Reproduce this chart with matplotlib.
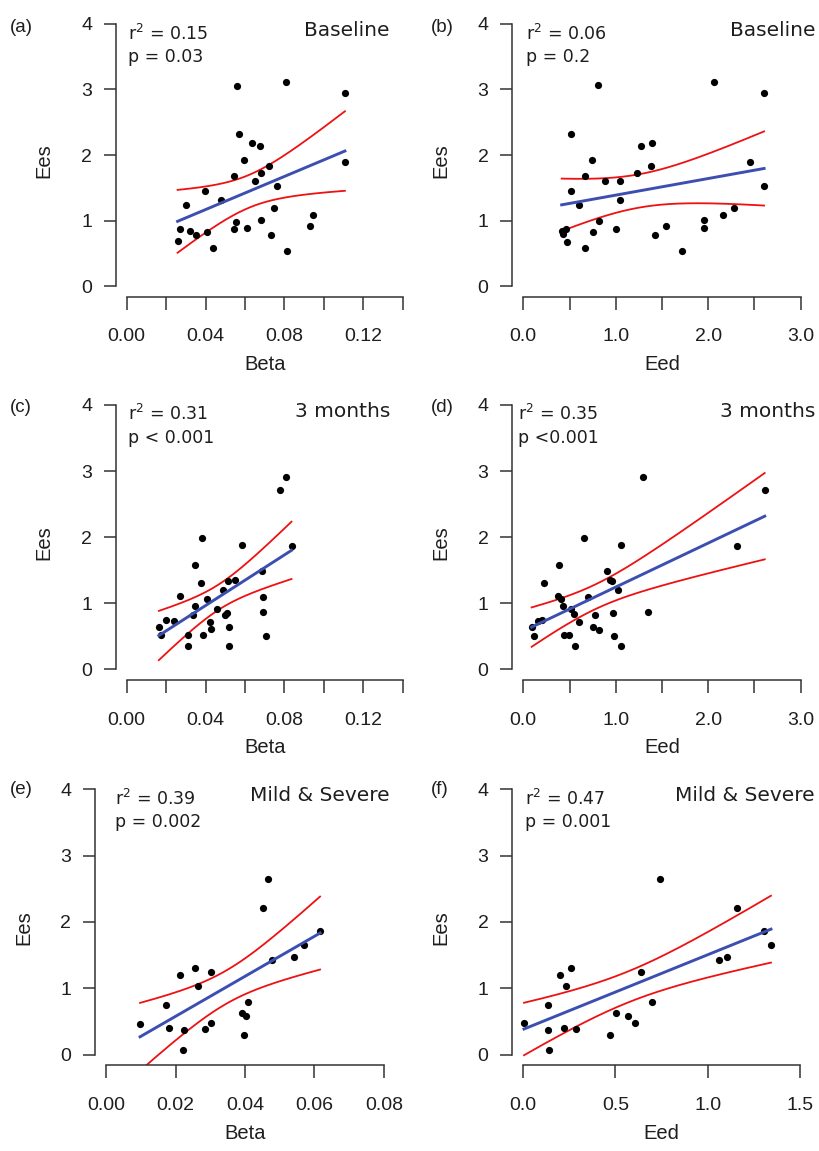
# Ees vs Beta / Eed scatter panels with linear fit and 95% CI band

import numpy as np
import matplotlib.pyplot as plt

# ---- data ----
a_beta = [0.0258, 0.0268, 0.0302, 0.0319, 0.0351, 0.0397, 0.0405, 0.0436, 0.0480, 0.0546, 0.0544,
          0.0554, 0.0558, 0.0568, 0.0593, 0.0612, 0.0636, 0.0653, 0.0675, 0.0681, 0.0683, 0.0722,
          0.0734, 0.0746, 0.0761, 0.0808, 0.0812, 0.0932, 0.0946, 0.1107, 0.1105]
a_ees = [0.68, 0.875, 1.24, 0.835, 0.78, 1.445, 0.824, 0.585, 1.32, 1.68, 0.87,
         0.98, 3.06, 2.32, 1.92, 0.885, 2.18, 1.60, 2.14, 1.725, 1.01, 1.83,
         0.774, 1.195, 1.52, 3.11, 0.54, 0.916, 1.084, 2.95, 1.89]

b_eed = [0.415, 0.429, 0.458, 0.472, 0.512, 0.512, 0.599, 0.664, 0.671, 0.746, 0.757, 0.808,
         0.822, 0.884, 1.006, 1.042, 1.042, 1.230, 1.273, 1.385, 1.396, 1.424, 1.543, 1.720,
         1.951, 1.951, 2.066, 2.157, 2.283, 2.452, 2.604, 2.600]
b_ees = [0.845, 0.789, 0.875, 0.677, 2.316, 1.445, 1.242, 0.585, 1.684, 1.919, 0.824, 3.064,
         0.987, 1.598, 0.875, 1.598, 1.313, 1.730, 2.137, 1.827, 2.188, 0.774, 0.916, 0.539,
         1.013, 0.885, 3.115, 1.084, 1.196, 1.888, 2.947, 1.522]

c_beta = [0.0163, 0.0175, 0.0200, 0.0241, 0.0268, 0.0310, 0.0310, 0.0336, 0.0344, 0.0346, 0.0378,
          0.0381, 0.0388, 0.0405, 0.0420, 0.0425, 0.0458, 0.0490, 0.0498, 0.0507, 0.0514, 0.0520,
          0.0520, 0.0547, 0.0586, 0.0685, 0.0693, 0.0690, 0.0708, 0.0780, 0.0807, 0.0836]
c_ees = [0.645, 0.514, 0.746, 0.731, 1.109, 0.514, 0.358, 0.827, 0.958, 1.573, 1.306,
         1.992, 0.524, 1.059, 0.711, 0.605, 0.918, 1.205, 0.827, 0.852, 1.331, 0.640,
         0.358, 1.357, 1.876, 1.488, 1.089, 0.862, 0.504, 2.713, 2.905, 1.871]

d_eed = [0.090, 0.112, 0.162, 0.198, 0.224, 0.371, 0.389, 0.407, 0.433, 0.440, 0.494, 0.512,
         0.545, 0.563, 0.606, 0.653, 0.700, 0.754, 0.775, 0.819, 0.902, 0.934, 0.963, 0.970,
         0.977, 1.028, 1.053, 1.060, 1.298, 1.352, 2.315, 2.611]
d_ees = [0.640, 0.509, 0.736, 0.751, 1.306, 1.114, 1.573, 1.064, 0.958, 0.519, 0.519, 0.913,
         0.837, 0.358, 0.711, 1.992, 1.094, 0.640, 0.827, 0.600, 1.493, 1.346, 1.331, 0.857,
         0.499, 1.205, 1.876, 0.358, 2.910, 0.862, 1.866, 2.713]

e_beta = [0.0098, 0.0173, 0.0180, 0.0214, 0.0221, 0.0224, 0.0256, 0.0264, 0.0284, 0.0302, 0.0303,
          0.0391, 0.0396, 0.0404, 0.0408, 0.0451, 0.0465, 0.0479, 0.0542, 0.0569, 0.0616]
e_ees = [0.467, 0.749, 0.407, 1.196, 0.075, 0.372, 1.307, 1.040, 0.382, 0.482, 1.251,
         0.633, 0.296, 0.578, 0.794, 2.216, 2.648, 1.427, 1.467, 1.648, 1.869]

f_eed = [0.004, 0.136, 0.132, 0.141, 0.199, 0.220, 0.233, 0.257, 0.284, 0.470, 0.502,
         0.566, 0.605, 0.638, 0.699, 0.739, 1.059, 1.106, 1.160, 1.305, 1.343]
f_ees = [0.472, 0.744, 0.372, 0.075, 1.196, 0.407, 1.040, 1.307, 0.382, 0.291, 0.633,
         0.578, 0.482, 1.251, 0.789, 2.648, 1.427, 1.467, 2.216, 1.869, 1.648]

panel_tags = ['(a)', '(b)', '(c)', '(d)', '(e)', '(f)']
periods = ['Baseline', 'Baseline', '3 months', '3 months', 'Mild & Severe', 'Mild & Severe']
r2_text = ['r$^2$ = 0.15', 'r$^2$ = 0.06', 'r$^2$ = 0.31', 'r$^2$ = 0.35', 'r$^2$ = 0.39', 'r$^2$ = 0.47']
p_text = ['p = 0.03', 'p = 0.2', 'p < 0.001', 'p <0.001', 'p = 0.002', 'p = 0.001']
x_names = ['Beta', 'Eed', 'Beta', 'Eed', 'Beta', 'Eed']

beta_ticks = [0.00, 0.02, 0.04, 0.06, 0.08, 0.10, 0.12, 0.14]
beta_labels = ['0.00', '', '0.04', '', '0.08', '', '0.12', '']
eed_ticks = [0.0, 0.5, 1.0, 1.5, 2.0, 2.5, 3.0]
eed_labels = ['0.0', '', '1.0', '', '2.0', '', '3.0']
beta_ticks_e = [0.00, 0.02, 0.04, 0.06, 0.08]
beta_labels_e = ['0.00', '0.02', '0.04', '0.06', '0.08']
eed_ticks_f = [0.0, 0.5, 1.0, 1.5]
eed_labels_f = ['0.0', '0.5', '1.0', '1.5']

# two-sided 95% t quantiles by residual df
t_crit = {19: 2.093, 29: 2.045, 30: 2.042}

xs = [a_beta, b_eed, c_beta, d_eed, e_beta, f_eed]
ys = [a_ees, b_ees, c_ees, d_ees, e_ees, f_ees]
ticks = [(beta_ticks, beta_labels), (eed_ticks, eed_labels), (beta_ticks, beta_labels),
         (eed_ticks, eed_labels), (beta_ticks_e, beta_labels_e), (eed_ticks_f, eed_labels_f)]

W, H = 819, 1151
# plot regions in pixels: left, top, right, bottom
boxes = [(115.7, 13.5, 413.7, 296.5), (512.2, 13.5, 811.8, 296.5),
         (115.7, 394.4, 413.7, 679.9), (512.2, 394.4, 811.8, 679.9),
         (94.9, 778.7, 395.1, 1065.3), (512.2, 778.7, 811.0, 1065.3)]
tag_pos = [(10, 27), (431, 27), (10, 407), (431, 407), (10, 790), (431, 790)]
stat_x = [128, 526, 128, 518, 115, 525]
title_x = [390, 815, 390, 815, 390, 815]

SANS = ['Liberation Sans', 'DejaVu Sans']
AXC = '#333333'
TXT = '#1e1e1e'

fig = plt.figure(figsize=(W / 100, H / 100), dpi=100)

for i in range(6):
    l, t, r, b = boxes[i]
    ax = fig.add_axes([l / W, 1 - b / H, (r - l) / W, (b - t) / H])
    x = np.array(xs[i])
    y = np.array(ys[i])
    tk, tl = ticks[i]

    # linear fit with confidence band
    n = len(x)
    slope, icpt = np.polyfit(x, y, 1)
    resid = y - (icpt + slope * x)
    s = np.sqrt(np.sum(resid ** 2) / (n - 2))
    sxx = np.sum((x - x.mean()) ** 2)
    xg = np.linspace(x.min(), x.max(), 200)
    yg = icpt + slope * xg
    hw = t_crit[n - 2] * s * np.sqrt(1 / n + (xg - x.mean()) ** 2 / sxx)

    ax.scatter(x, y, s=27, color='black', zorder=3, linewidths=0)
    ax.plot(xg, yg + hw, color='#ee1111', lw=1.3, zorder=2)
    ax.plot(xg, yg - hw, color='#ee1111', lw=1.3, zorder=2)
    ax.plot(xg, yg, color='#3c4fb0', lw=2.1, zorder=4)

    span = tk[-1] - tk[0]
    ax.set_xlim(tk[0] - 0.04 * span, tk[-1] + 0.04 * span)
    ax.set_ylim(-0.16, 4.16)
    for side in ['top', 'right']:
        ax.spines[side].set_visible(False)
    ax.spines['left'].set_bounds(0, 4)
    ax.spines['bottom'].set_bounds(tk[0], tk[-1])
    for side in ['left', 'bottom']:
        ax.spines[side].set_color(AXC)
        ax.spines[side].set_linewidth(1.1)
    ax.set_yticks([0, 1, 2, 3, 4])
    ax.set_xticks(tk)
    ax.set_xticklabels(tl)
    ax.tick_params(axis='both', length=9, width=1.1, color=AXC, labelsize=14, labelcolor=TXT)
    ax.tick_params(axis='x', pad=14)
    ax.tick_params(axis='y', pad=8)
    for lab in ax.get_xticklabels() + ax.get_yticklabels():
        lab.set_family(SANS)
    ax.patch.set_visible(False)

    ax.set_xlabel(x_names[i], family=SANS, fontsize=14.5, color=TXT)
    ax.set_ylabel('Ees', family=SANS, fontsize=14.5, color=TXT)
    ax.xaxis.set_label_coords(0.5, -(355 - 296.5) / (b - t))
    ax.yaxis.set_label_coords(-62 / (r - l), 0.48)

    # annotations
    tx, ty = tag_pos[i]
    fig.text(tx / W, 1 - ty / H, panel_tags[i], family=SANS, fontsize=13.5,
             color=TXT, ha='left', va='center')
    fig.text(stat_x[i] / W, 1 - (t + 20) / H, r2_text[i], fontsize=12.5,
             color=TXT, ha='left', va='center')
    fig.text(stat_x[i] / W, 1 - (t + 43.5) / H, p_text[i], fontsize=12.5,
             color=TXT, ha='left', va='center')
    fig.text(title_x[i] / W, 1 - (t + 17) / H, periods[i], fontsize=14.5,
             color=TXT, ha='right', va='center')

fig.savefig('out.png', dpi=100)
